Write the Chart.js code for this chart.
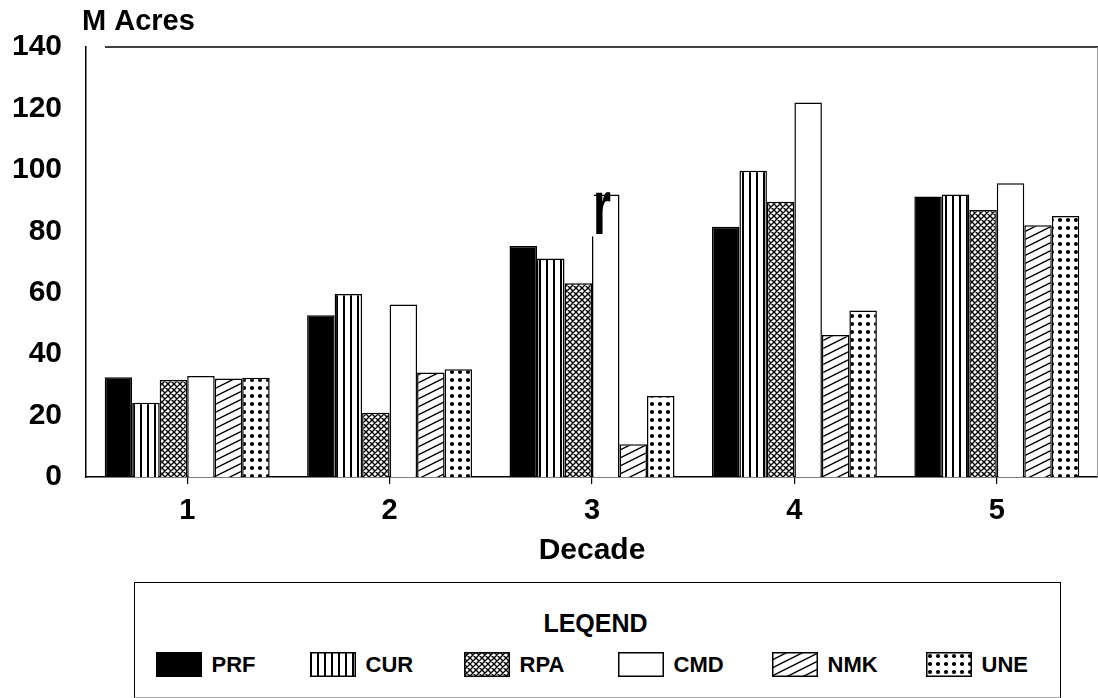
<!DOCTYPE html>
<html>
<head>
<meta charset="utf-8">
<title>M Acres by Decade</title>
<script src="https://cdn.jsdelivr.net/npm/chart.js@4/dist/chart.umd.min.js"></script>
<style>
  html, body { margin: 0; padding: 0; background: #fff; overflow: hidden; }
  #wrap { position: relative; width: 1098px; height: 698px; font-family: 'Liberation Sans', Arial, sans-serif; }
  #chart { position: absolute; left: 0; top: 0; }
  #legend {
    position: absolute; left: 134px; top: 582px; width: 927px; height: 116px;
    box-sizing: border-box; border: 1.5px solid #000; border-bottom-color: #aaa; background: #fff;
  }
  #legend .ttl {
    position: absolute; left: 0; right: 4px; top: 27px; text-align: center;
    font-weight: bold; font-size: 25px; line-height: 26px; color: #000;
  }
  #legend .item {
    position: absolute; top: 68.5px; height: 25px; display: flex; align-items: center;
  }
  #legend .item span {
    margin-left: 10px; font-weight: bold; font-size: 22px; line-height: 25px; color: #000;
  }
</style>
</head>
<body>
<div id="wrap">
  <canvas id="chart" width="1098" height="575"></canvas>
  <div id="legend">
    <div class="ttl">LEQEND</div>
  </div>
</div>
<script>
// decades on the x axis and the six series (million acres)
const decades = ['1', '2', '3', '4', '5'];
const seriesNames = ['PRF', 'CUR', 'RPA', 'CMD', 'NMK', 'UNE'];
const prf = [32.5, 52.7, 75.2, 81.5, 91.3];
const cur = [24.2, 59.6, 71.1, 99.7, 92.0];
const rpa = [31.6, 20.9, 63.1, 89.6, 86.9];
const cmd = [32.9, 56.2, 92.0, 121.9, 95.6];
const nmk = [32.1, 34.0, 10.7, 46.2, 82.0];
const une = [32.3, 35.1, 26.4, 54.2, 85.0];
const seriesValues = [prf, cur, rpa, cmd, nmk, une];
const yTicks = [0, 20, 40, 60, 80, 100, 120, 140];

const FONT = "'Liberation Sans', Arial, sans-serif";
Chart.defaults.font.family = FONT;
Chart.defaults.color = '#000';

// black & white fill patterns, one per series
function makeFill(kind) {
  if (kind === 'solid') return '#000';
  if (kind === 'blank') return '#fff';
  const c = document.createElement('canvas');
  const g = c.getContext('2d');
  if (kind === 'vstripe') {
    c.width = 7; c.height = 4;
    g.fillStyle = '#fff'; g.fillRect(0, 0, 7, 4);
    g.fillStyle = '#000'; g.fillRect(0, 0, 2, 4);
  } else if (kind === 'cross') {
    c.width = 6; c.height = 6;
    g.fillStyle = '#fff'; g.fillRect(0, 0, 6, 6);
    g.strokeStyle = '#000'; g.lineWidth = 1.4;
    g.beginPath();
    for (const dx of [-6, 0, 6]) {
      g.moveTo(dx, 0); g.lineTo(dx + 6, 6);
      g.moveTo(dx, 6); g.lineTo(dx + 6, 0);
    }
    g.stroke();
  } else if (kind === 'diag') {
    c.width = 16; c.height = 8;
    g.fillStyle = '#fff'; g.fillRect(0, 0, 16, 8);
    g.strokeStyle = '#000'; g.lineWidth = 1.4;
    g.beginPath();
    for (const dy of [-8, 0, 8]) {
      g.moveTo(0, 8 + dy); g.lineTo(16, dy);
    }
    g.stroke();
  } else if (kind === 'dots') {
    c.width = 8; c.height = 8;
    g.fillStyle = '#fff'; g.fillRect(0, 0, 8, 8);
    g.fillStyle = '#000';
    g.beginPath(); g.arc(4, 4, 2.1, 0, Math.PI * 2); g.fill();
  }
  return g.createPattern(c, 'repeat');
}

const fillKinds = ['solid', 'vstripe', 'cross', 'blank', 'diag', 'dots'];
const fills = fillKinds.map(makeFill);

// top frame line, right edge, the "M Acres" heading and the stray mark on the CMD bar
const frameLines = {
  id: 'frameLines',
  afterDraw(chart) {
    const { ctx, chartArea: a } = chart;
    ctx.save();
    ctx.strokeStyle = '#000';
    ctx.lineWidth = 1.5;
    ctx.beginPath();
    ctx.moveTo(a.left + 19, a.top);
    ctx.lineTo(a.right, a.top);
    ctx.stroke();
    ctx.strokeStyle = '#999';
    ctx.lineWidth = 1;
    ctx.beginPath();
    ctx.moveTo(a.right - 0.5, a.top);
    ctx.lineTo(a.right - 0.5, a.bottom);
    ctx.stroke();

    ctx.fillStyle = '#000';
    ctx.font = 'bold 29px ' + FONT;
    ctx.textBaseline = 'middle';
    ctx.textAlign = 'left';
    ctx.fillText('M Acres', a.left - 4, a.top - 25);

    const bar = chart.getDatasetMeta(3).data[2];
    if (bar) {
      const x0 = bar.x - bar.width / 2;
      ctx.fillStyle = '#fff';
      ctx.fillRect(x0 - 1, bar.y, 3, 42);
      ctx.fillStyle = '#000';
      ctx.translate(x0 + 1, bar.y);
      ctx.scale(0.6, 1);
      ctx.font = 'bold 77px ' + FONT;
      ctx.textBaseline = 'alphabetic';
      ctx.fillText('r', 0, 40);
    }
    ctx.restore();
  }
};

const chart = new Chart(document.getElementById('chart').getContext('2d'), {
  type: 'bar',
  data: {
    labels: decades,
    datasets: seriesNames.map((name, i) => ({
      label: name,
      data: seriesValues[i],
      backgroundColor: fills[i],
      borderColor: '#000',
      borderWidth: 1.5,
      categoryPercentage: 0.815,
      barPercentage: 1
    }))
  },
  options: {
    responsive: false,
    animation: false,
    layout: { padding: { top: 47, right: 0, bottom: 6, left: 0 } },
    plugins: {
      legend: { display: false },
      tooltip: { enabled: false }
    },
    scales: {
      x: {
        afterFit(scale) { scale.height = 92; },
        grid: { display: true, drawOnChartArea: false, offset: false, tickLength: 7, color: '#000', lineWidth: 1.2 },
        border: { display: true, color: '#000', width: 1.5 },
        ticks: { font: { size: 29, weight: 'bold' }, color: '#000', padding: 10 },
        title: {
          display: true, text: 'Decade', color: '#000',
          font: { size: 30, weight: 'bold' }, padding: { top: 5, bottom: 0 }
        }
      },
      y: {
        min: yTicks[0],
        max: yTicks[yTicks.length - 1],
        afterBuildTicks(scale) { scale.ticks = yTicks.map(v => ({ value: v })); },
        afterFit(scale) { scale.width = 86; },
        grid: { display: false, drawTicks: false },
        border: { display: true, color: '#000', width: 1.5 },
        ticks: { font: { size: 30, weight: 'bold' }, color: '#000', padding: 24 }
      }
    }
  },
  plugins: [frameLines]
});

// legend row built from the same series names and fills
const legendBox = document.getElementById('legend');
seriesNames.forEach((name, i) => {
  const item = document.createElement('div');
  item.className = 'item';
  item.style.left = (20.5 + i * 154) + 'px';
  const sw = document.createElement('canvas');
  sw.width = 46; sw.height = 25;
  const g = sw.getContext('2d');
  g.fillStyle = fills[i];
  g.fillRect(0, 0, 46, 25);
  g.strokeStyle = '#000';
  g.lineWidth = 1.5;
  g.strokeRect(0.75, 0.75, 44.5, 23.5);
  const txt = document.createElement('span');
  txt.textContent = name;
  item.appendChild(sw);
  item.appendChild(txt);
  legendBox.appendChild(item);
});
</script>
</body>
</html>
